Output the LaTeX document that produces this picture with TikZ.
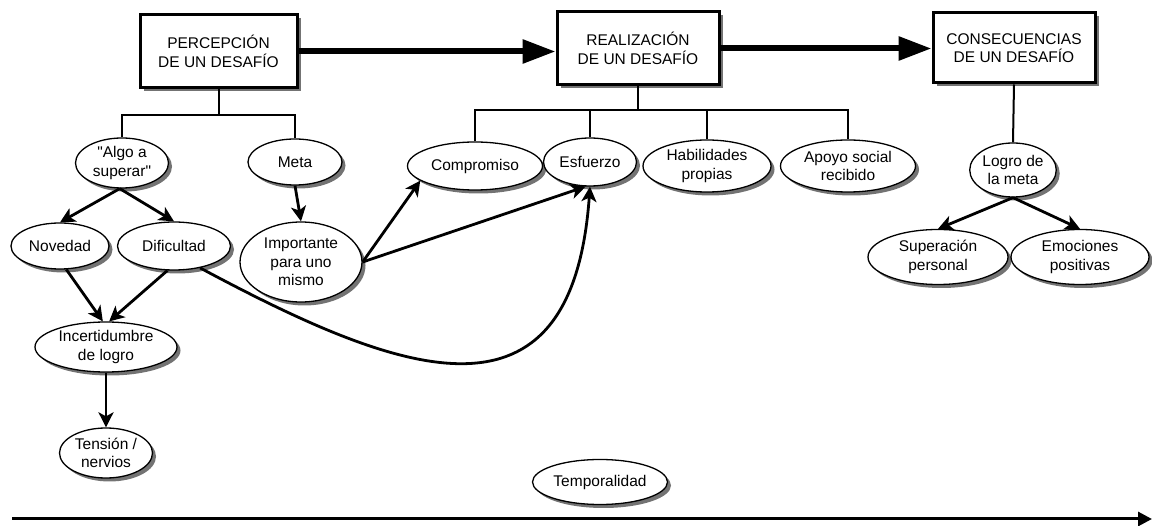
\documentclass[tikz,border=0pt]{standalone}
\usepackage{fontspec}
\setmainfont{Liberation Sans}[Ligatures=TeXOff]
\usetikzlibrary{shapes.geometric,shadows,arrows.meta}
\begin{document}
\begin{tikzpicture}[x=1pt,y=-1pt,
  every node/.style={font=\fontsize{15.5}{18.5}\selectfont, align=center},
  shad/.style={drop shadow={shadow xshift=3.5pt, shadow yshift=-3.5pt, fill=black!55, opacity=1}},
  oval/.style={ellipse, draw, line width=1.3pt, fill=white, inner sep=0pt, shad},
  stage/.style={rectangle, draw, line width=3pt, fill=white, inner sep=0pt, shad},
  tree/.style={line width=2pt},
  arr/.style={line width=2.8pt, -{Stealth[length=15pt,width=15pt,inset=4pt]}},
  bigarr/.style={line width=6pt, -{Triangle[length=33pt,width=23pt]}}]
\useasboundingbox (0,0) rectangle (1152,526);

% stage boxes
\node[stage, minimum width=157pt, minimum height=73pt] (P) at (218.5,51.5) {PERCEPCIÓN\\DE UN DESAFÍO};
\node[stage, minimum width=162pt, minimum height=73pt] (R) at (638,48.5) {REALIZACIÓN\\DE UN DESAFÍO};
\node[stage, minimum width=162pt, minimum height=70pt] (C) at (1014,48) {CONSECUENCIAS\\DE UN DESAFÍO};

% ellipses
\node[oval, minimum width=93pt, minimum height=50pt] (algo) at (122,163) {"Algo a\\superar"};
\node[oval, minimum width=94pt, minimum height=46pt] (meta) at (295,162) {Meta};
\node[oval, minimum width=98pt, minimum height=46pt] (nov) at (60,246) {Novedad};
\node[oval, minimum width=113pt, minimum height=48pt] (dif) at (174,246) {Dificultad};
\node[oval, minimum width=122pt, minimum height=80pt] (imp) at (301,262) {Importante\\para uno\\mismo};
\node[oval, minimum width=142pt, minimum height=50pt] (inc) at (106,347) {Incertidumbre\\de logro};
\node[oval, minimum width=93pt, minimum height=50pt] (ten) at (106,453) {Tensión /\\nervios};
\node[oval, minimum width=135pt, minimum height=48pt] (comp) at (475,166) {Compromiso};
\node[oval, minimum width=93pt, minimum height=48pt] (esf) at (590,162) {Esfuerzo};
\node[oval, minimum width=128pt, minimum height=52pt] (hab) at (707,166) {Habilidades\\propias};
\node[oval, minimum width=135pt, minimum height=52pt] (apo) at (848,166) {Apoyo social\\recibido};
\node[oval, minimum width=80pt, minimum height=54pt] (logro) at (1013,170) {Logro de\\la meta};
\node[oval, minimum width=140pt, minimum height=55pt] (sup) at (938,257) {Superación\\personal};
\node[oval, minimum width=138pt, minimum height=55pt] (emo) at (1080,257) {Emociones\\positivas};
\node[oval, minimum width=135pt, minimum height=45pt] (temp) at (600,482) {Temporalidad};

% main flow arrows
\draw[bigarr] (P.east) -- (P.east -| R.west);
\draw[bigarr] (R.east) -- (R.east -| C.west);

% tree under PERCEPCION
\coordinate (pj) at (218.5,115);
\draw[tree] (P.south) -- (pj);
\draw[tree] (algo.north) -- (algo.north |- pj) -- (meta.north |- pj) -- (meta.north);

% tree under REALIZACION
\coordinate (rj) at (638,110);
\draw[tree] (R.south) -- (rj);
\draw[tree] (comp.north) -- (comp.north |- rj) -- (apo.north |- rj) -- (apo.north);
\draw[tree] (esf.north) -- (esf.north |- rj);
\draw[tree] (hab.north) -- (hab.north |- rj);

% tree under CONSECUENCIAS
\draw[tree] (C.south) -- (logro.north);

% arrows
\draw[arr] (algo.-95) -- (nov.north);
\draw[arr] (algo.-95) -- (dif.north);
\draw[arr] (meta.south) -- (imp.north);
\draw[arr] (nov.-75) -- (inc.97);
\draw[arr] (dif.-105) -- (inc.83);
\draw[arr] (inc.south) -- (ten.north);
\draw[arr] (imp.east) -- (comp.195);
\draw[arr] (imp.east) -- (esf.-100);
\draw[arr] (dif.-40) .. controls (400,375) and (572,440) .. (esf.south);
\draw[arr] (logro.south) -- (sup.north);
\draw[arr] (logro.south) -- (emo.north);

% time axis
\coordinate (t0) at (12,519);
\coordinate (t1) at (1152,519);
\draw[line width=3pt, -{Triangle[length=14pt,width=14pt]}] (t0) -- (t1);
\end{tikzpicture}
\end{document}
